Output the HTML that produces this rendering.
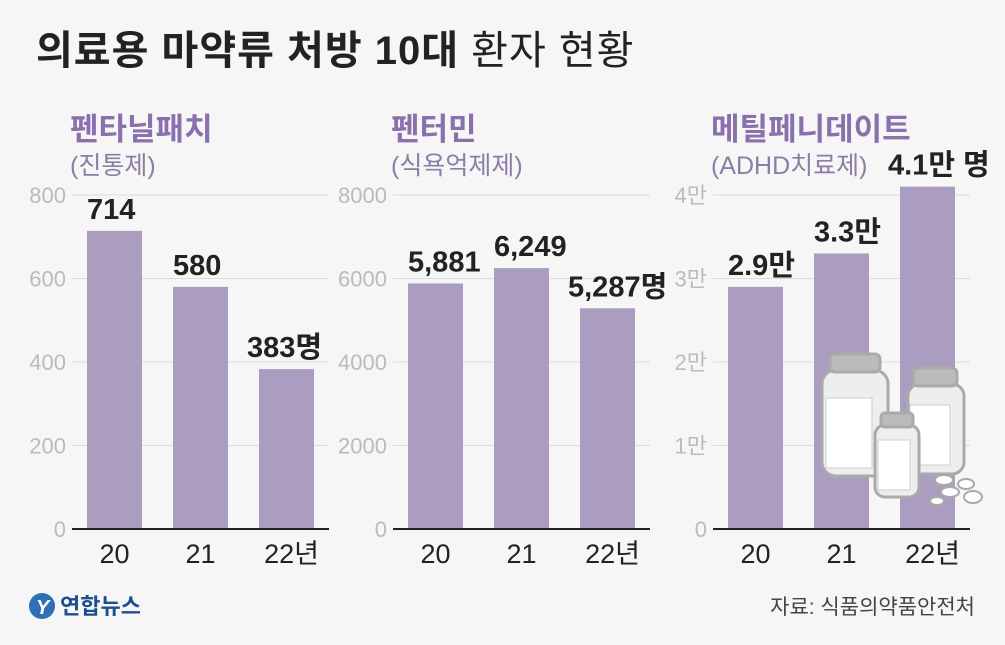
<!DOCTYPE html>
<html><head><meta charset="utf-8"><style>
body{margin:0;width:1005px;height:645px;background:#f6f6f6;font-family:"Liberation Sans","Noto Sans CJK KR",sans-serif;overflow:hidden}
svg{position:absolute;left:0;top:0}
</style></head><body>
<svg width="1005" height="645" id="svg">
<text x="36" y="64" font-size="40" font-weight="bold" fill="#222" letter-spacing="1">의료용 마약류 처방 10대 <tspan font-weight="normal">환자 현황</tspan></text>
<g>
<circle cx="42" cy="606" r="13" fill="#2f6fb5"/><text x="36" y="614" font-size="20" font-style="italic" font-weight="bold" fill="#fff">Y</text>
<text x="60" y="614" font-size="22" font-weight="bold" fill="#1f4e8f">연합뉴스</text></g>
<text x="975" y="614" font-size="21" text-anchor="end" fill="#444">자료: 식품의약품안전처</text>
<g id="bottles" stroke="#aaa" stroke-width="3">
<rect x="822" y="370" width="66" height="106" rx="14" fill="#eee"/><rect x="830" y="354" width="50" height="18" rx="5" fill="#bbb"/><rect x="826" y="398" width="46" height="70" fill="#fff" stroke="#ccc" stroke-width="1"/>
<rect x="908" y="384" width="56" height="90" rx="12" fill="#eee"/><rect x="913" y="368" width="44" height="18" rx="5" fill="#bbb"/><rect x="910" y="405" width="40" height="60" fill="#fff" stroke="#ccc" stroke-width="1"/>
<rect x="875" y="425" width="44" height="72" rx="10" fill="#eee"/><rect x="881" y="413" width="32" height="14" rx="4" fill="#bbb"/><rect x="878" y="440" width="32" height="50" fill="#fff" stroke="#ccc" stroke-width="1"/>
<g fill="#fff" stroke-width="2"><ellipse cx="944" cy="480" rx="9" ry="5"/><ellipse cx="966" cy="484" rx="8" ry="5"/><ellipse cx="950" cy="492" rx="9" ry="5"/><ellipse cx="973" cy="497" rx="9" ry="6"/><ellipse cx="937" cy="501" rx="7" ry="4"/></g>
</g>
</svg>
<script>
const categories=["20","21","22년"];
const fentanyl=[714,580,383];
const phentermine=[5881,6249,5287];
const methyl=[2.9,3.3,4.1];
const labels1=["714","580","383명"];
const labels2=["5,881","6,249","5,287명"];
const labels3=["2.9만","3.3만","4.1만 명"];
const ticks1=["0","200","400","600","800"];
const ticks2=["0","2000","4000","6000","8000"];
const ticks3=["0","1만","2만","3만","4만"];
const NS="http://www.w3.org/2000/svg";
const svg=document.getElementById('svg');
const bottles=document.getElementById('bottles');
function mk(tag,at,txt){const e=document.createElementNS(NS,tag);for(const k in at)e.setAttribute(k,at[k]);if(txt!==undefined)e.textContent=txt;svg.insertBefore(e,bottles);return e;}
const panels=[
 {x0:72,title:"펜타닐패치",sub:"(진통제)",vals:fentanyl,max:800,ticks:ticks1,lab:labels1,n:"fentanyl"},
 {x0:393,title:"펜터민",sub:"(식욕억제제)",vals:phentermine,max:8000,ticks:ticks2,lab:labels2,n:"phentermine"},
 {x0:713,title:"메틸페니데이트",sub:"(ADHD치료제)",vals:methyl,max:4,ticks:ticks3,lab:labels3,n:"methylphenidate"}];
const y0=529,yTop=195;
panels.forEach(p=>{
 const y=v=>y0-(v/p.max)*(y0-yTop);
 let t=mk('text',{x:p.x0-2,y:140,'font-size':31,'font-weight':'bold',fill:'#8a70ad'},p.title);
 
 
 t=mk('text',{x:p.x0-2,y:174,'font-size':25,fill:'#8c7ea3'},p.sub);
 
 
 p.ticks.forEach((tk,i)=>{
  const v=i*p.max/(p.ticks.length-1),yy=y(v);
  if(i>0){const l=mk('line',{x1:p.x0,x2:p.x0+257,y1:yy,y2:yy,stroke:'#dcdcdc','stroke-width':1});
  
  }
  const tt=mk('text',{x:p.x0-6,y:yy+8,'font-size':22,'text-anchor':'end',fill:'#bbbbbb'},tk);
  
  
 });
 p.vals.forEach((v,i)=>{
  const bx=p.x0+15+i*86;
  const r=mk('rect',{x:bx,y:y(v),width:55,height:y0-y(v),fill:'#ab9dc0'});
  
  
  const lt=mk('text',{x:bx+(i==2?-12:0),y:y(v)-12,'font-size':29,'font-weight':'bold',fill:'#222'},p.lab[i]);
  
  
  const c=mk('text',{x:bx+27.5+(i==2?5:0),y:563,'font-size':27,'text-anchor':'middle',fill:'#222'},categories[i]);
  
  
 });
 const ax=mk('line',{x1:p.x0,x2:p.x0+257,y1:y0,y2:y0,stroke:'#222','stroke-width':2});
 
 
});
</script>
</body></html>
